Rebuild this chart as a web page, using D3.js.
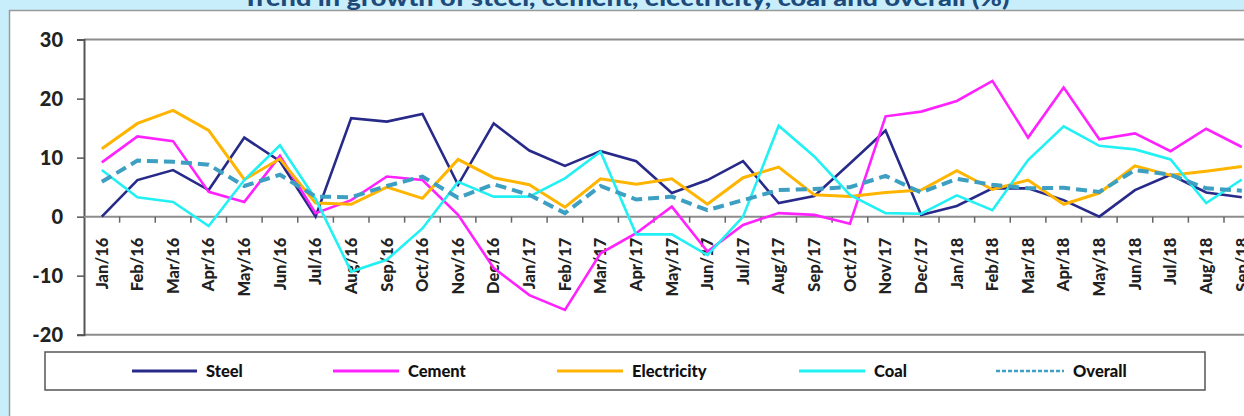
<!DOCTYPE html>
<html><head><meta charset="utf-8">
<script src="https://cdn.jsdelivr.net/npm/d3@7/dist/d3.min.js"></script>
<style>
html,body{margin:0;padding:0;background:#c8eefc;}
svg{display:block;}
</style></head>
<body>
<svg id="chart" width="1244" height="416"></svg>
<script>
const months = ["Jan/16","Feb/16","Mar/16","Apr/16","May/16","Jun/16","Jul/16","Aug/16","Sep/16","Oct/16","Nov/16","Dec/16",
"Jan/17","Feb/17","Mar/17","Apr/17","May/17","Jun/17","Jul/17","Aug/17","Sep/17","Oct/17","Nov/17","Dec/17",
"Jan/18","Feb/18","Mar/18","Apr/18","May/18","Jun/18","Jul/18","Aug/18","Sep/18"];
const steel = [0,6.2,7.9,4.5,13.4,9.4,0,16.7,16.1,17.4,5.4,15.8,11.2,8.6,11.1,9.4,4.0,6.2,9.4,2.3,3.5,9.0,14.6,0.3,1.8,4.8,4.8,2.8,0,4.5,7.1,4.1,3.3];
const cement = [9.2,13.6,12.8,4.2,2.5,10.3,0.6,2.8,6.8,6.2,0.3,-8.7,-13.3,-15.8,-6.2,-2.8,1.7,-5.9,-1.4,0.6,0.3,-1.2,17.0,17.8,19.6,23.0,13.4,21.9,13.1,14.1,11.1,14.9,11.8];
const electricity = [11.5,15.8,18.0,14.6,6.3,9.8,2.3,2.1,5.0,3.1,9.7,6.6,5.4,1.6,6.4,5.5,6.4,2.1,6.6,8.4,3.7,3.4,4.1,4.5,7.8,4.6,6.2,2.1,4.0,8.6,7.0,7.7,8.5];
const coal = [7.9,3.3,2.5,-1.6,6.2,12.1,3.0,-9.3,-7.3,-2.0,5.9,3.4,3.4,6.5,11.0,-3.0,-3.0,-6.5,0,15.4,10.2,3.7,0.6,0.5,3.6,1.1,9.6,15.3,12.0,11.4,9.7,2.3,6.3];
const overall = [5.9,9.5,9.3,8.8,5.2,7.1,3.4,3.3,5.2,6.8,3.2,5.5,3.7,0.6,5.2,2.9,3.4,1.1,2.8,4.5,4.7,5.0,6.9,4.1,6.4,5.4,4.8,4.9,4.2,7.9,7.1,4.8,4.4];
const yTicks = [-20,-10,0,10,20,30];
const seriesNames = ["Steel","Cement","Electricity","Coal","Overall"];
const titleText = "Trend in growth of steel, cement, electricity, coal and overall (%)";

const colors = {Steel:"#282a8a",Cement:"#ff22ff",Electricity:"#ffb400",Coal:"#22f0f2",Overall:"#3d9fc2"};
const widths = {Steel:2.6,Cement:2.6,Electricity:3,Coal:2.6,Overall:4};
const dashes = {Overall:"11,6"};
const seriesData = {Steel:steel,Cement:cement,Electricity:electricity,Coal:coal,Overall:overall};

const svg = d3.select("#chart");
const font = "Lato, 'Open Sans', sans-serif";

// white panel
svg.append("rect").attr("x",9.5).attr("y",10.5).attr("width",1250).attr("height",420)
  .attr("fill","#fff").attr("stroke","#9a9a9a").attr("stroke-width",1.5);

// title (cut at top as in the reference)
svg.append("text").attr("x",626).attr("y",6).attr("text-anchor","middle")
  .attr("font-family",font).attr("font-weight",900).attr("font-size",22)
  .attr("fill","#1e4a7a").attr("textLength",767).attr("lengthAdjust","spacingAndGlyphs")
  .text(titleText);

const x = d3.scaleBand().domain(months).range([84, 84 + 33*35.625]).padding(0);
const y = d3.scaleLinear().domain([-20,30]).range([334.7, 39.6]);
const xc = m => x(m) + x.bandwidth()/2;

// plot frame top & bottom
svg.append("line").attr("x1",84).attr("x2",1260).attr("y1",y(30)).attr("y2",y(30)).attr("stroke","#8c8c8c").attr("stroke-width",2);
svg.append("line").attr("x1",84).attr("x2",1260).attr("y1",y(-20)).attr("y2",y(-20)).attr("stroke","#8c8c8c").attr("stroke-width",2);

// y axis
const yAxis = d3.axisLeft(y).tickValues(yTicks).tickSize(7).tickPadding(14).tickFormat(d => String(d));
const gy = svg.append("g").attr("transform","translate(84,0)").call(yAxis);
gy.select(".domain").attr("stroke","#555").attr("stroke-width",2);
gy.selectAll(".tick line").attr("stroke","#555").attr("stroke-width",1.5);
gy.selectAll(".tick text").attr("font-family",font).attr("font-weight",900).attr("font-size",20).attr("fill","#222");

// x axis at zero
const xAxis = d3.axisBottom(x).tickSize(0).tickPadding(0);
const gx = svg.append("g").attr("transform",`translate(0,${y(0)})`).call(xAxis);
gx.select(".domain").remove();
gx.selectAll(".tick text").attr("font-family",font).attr("font-weight",900).attr("font-size",16.5).attr("fill","#222")
  .attr("text-anchor","end").attr("dy","0.35em").attr("transform","translate(0,21) rotate(-90)").attr("x",0).attr("y",0);
svg.append("line").attr("x1",84).attr("x2",1260).attr("y1",y(0)).attr("y2",y(0)).attr("stroke","#8c8c8c").attr("stroke-width",2);
svg.append("g").selectAll("line").data(months.slice(1)).join("line")
  .attr("x1",d=>x(d)).attr("x2",d=>x(d)).attr("y1",y(0)).attr("y2",y(0)+6)
  .attr("stroke","#666").attr("stroke-width",1.5);

// lines
const line = d3.line().x((d,i)=>xc(months[i])).y(d=>y(d));
seriesNames.forEach(name=>{
  svg.append("path").datum(seriesData[name]).attr("d",line)
    .attr("fill","none").attr("stroke",colors[name]).attr("stroke-width",widths[name])
    .attr("stroke-linejoin","miter").attr("stroke-dasharray",dashes[name]||null);
});

// legend
svg.append("rect").attr("x",45).attr("y",352).attr("width",1160).attr("height",38)
  .attr("fill","#fff").attr("stroke","#555").attr("stroke-width",1.5);
const legPos = [{l:132,t:206},{l:333,t:408},{l:557,t:632},{l:799,t:874},{l:996,t:1073}];
seriesNames.forEach((name,i)=>{
  const p = legPos[i];
  svg.append("line").attr("x1",p.l).attr("x2",p.t-9).attr("y1",371).attr("y2",371)
    .attr("stroke",colors[name]).attr("stroke-width",name==="Overall"?2.5:3)
    .attr("stroke-dasharray",name==="Overall"?"4,2":null);
  svg.append("text").attr("x",p.t).attr("y",371).attr("dy","0.35em")
    .attr("font-family",font).attr("font-weight",900).attr("font-size",16.5).attr("fill","#111").text(name);
});
</script>
</body></html>
